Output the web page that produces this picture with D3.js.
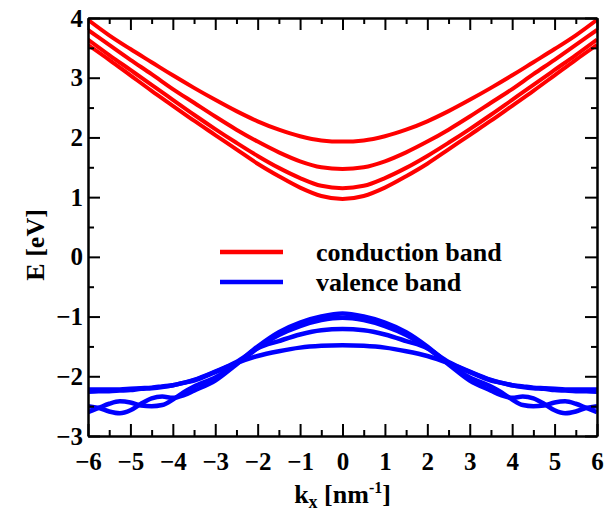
<!DOCTYPE html>
<html>
<head>
<meta charset="utf-8">
<script src="https://cdn.jsdelivr.net/npm/d3@7"></script>
<style>
  body { margin: 0; background: #fff; }
  svg text { font-family: "Liberation Serif", "Times New Roman", serif; font-weight: bold; }
</style>
</head>
<body>
<svg id="chart" width="605" height="511"></svg>
<script>
// wave vector grids [nm^-1]
const kCond = [-6,-5.5,-5,-4.5,-4,-3.5,-3,-2.5,-2,-1.5,-1,-0.5,0,0.5,1,1.5,2,2.5,3,3.5,4,4.5,5,5.5,6];
const kVal = [-6,-5.75,-5.5,-5.25,-5,-4.75,-4.5,-4.25,-4,-3.75,-3.5,-3,-2.5,-2,-1.5,-1,-0.5,0,
  0.5,1,1.5,2,2.5,3,3.5,3.75,4,4.25,4.5,4.75,5,5.25,5.5,5.75,6];

// conduction band energies [eV]
const cb1 = [3.97,3.71,3.48,3.26,3.04,2.83,2.63,2.44,2.27,2.13,2.02,1.95,1.93,1.95,2.02,2.13,2.27,2.44,2.63,2.83,3.04,3.26,3.48,3.71,3.97];
const cb2 = [3.80,3.55,3.30,3.06,2.81,2.58,2.35,2.13,1.93,1.75,1.60,1.50,1.47,1.50,1.60,1.75,1.93,2.13,2.35,2.58,2.81,3.06,3.30,3.55,3.80];
const cb3 = [3.64,3.38,3.13,2.88,2.63,2.38,2.14,1.91,1.69,1.49,1.32,1.19,1.15,1.19,1.32,1.49,1.69,1.91,2.14,2.38,2.63,2.88,3.13,3.38,3.64];
const cb4 = [3.55,3.30,3.04,2.78,2.53,2.28,2.04,1.80,1.56,1.35,1.16,1.02,0.97,1.02,1.16,1.35,1.56,1.80,2.04,2.28,2.53,2.78,3.04,3.30,3.55];

// valence band energies [eV]
const vb1 = [-2.60,-2.53,-2.46,-2.42,-2.44,-2.49,-2.50,-2.48,-2.39,-2.27,-2.17,-2.02,-1.79,-1.50,-1.26,-1.10,-1.00,-0.95,
  -1.00,-1.10,-1.26,-1.50,-1.79,-2.02,-2.17,-2.27,-2.39,-2.48,-2.50,-2.49,-2.44,-2.42,-2.46,-2.53,-2.60];
const vb2 = [-2.50,-2.53,-2.59,-2.62,-2.57,-2.46,-2.37,-2.34,-2.36,-2.32,-2.24,-2.07,-1.80,-1.53,-1.31,-1.16,-1.06,-1.02,
  -1.06,-1.16,-1.31,-1.53,-1.80,-2.07,-2.24,-2.32,-2.36,-2.34,-2.37,-2.46,-2.57,-2.62,-2.59,-2.53,-2.50];
const vb3 = [-2.22,-2.22,-2.22,-2.22,-2.21,-2.20,-2.19,-2.17,-2.15,-2.11,-2.06,-1.92,-1.76,-1.53,-1.41,-1.30,-1.23,-1.21,
  -1.23,-1.30,-1.41,-1.53,-1.76,-1.92,-2.06,-2.11,-2.15,-2.17,-2.19,-2.20,-2.21,-2.22,-2.22,-2.22,-2.22];
const vb4 = [-2.26,-2.25,-2.25,-2.24,-2.23,-2.21,-2.20,-2.18,-2.15,-2.11,-2.07,-1.93,-1.78,-1.66,-1.58,-1.52,-1.49,-1.48,
  -1.49,-1.52,-1.58,-1.66,-1.78,-1.93,-2.07,-2.11,-2.15,-2.18,-2.20,-2.21,-2.23,-2.24,-2.25,-2.25,-2.26];

const xTicks = [-6,-5,-4,-3,-2,-1,0,1,2,3,4,5,6];
const yTicks = [-3,-2,-1,0,1,2,3,4];
const legendLabels = ["conduction band", "valence band"];

const svg = d3.select("#chart"),
  margin = { top: 18, right: 8, bottom: 75, left: 88 },
  width = +svg.attr("width") - margin.left - margin.right,
  height = +svg.attr("height") - margin.top - margin.bottom;

const x = d3.scaleLinear().domain([-6, 6]).range([margin.left, margin.left + width]);
const y = d3.scaleLinear().domain([-3, 4]).range([margin.top + height, margin.top]);

const minorX = d3.range(-5.5, 6, 1);
const minorY = d3.range(-2.5, 4, 1);
const fmt = d3.format("d");

svg.append("clipPath").attr("id", "plot-clip")
  .append("rect")
  .attr("x", margin.left).attr("y", margin.top)
  .attr("width", width).attr("height", height);

const line = (ks) => d3.line()
  .x((d, i) => x(ks[i]))
  .y((d) => y(d))
  .curve(d3.curveMonotoneX);

const curves = svg.append("g").attr("clip-path", "url(#plot-clip)");

[cb1, cb2, cb3, cb4].forEach((band) => {
  curves.append("path")
    .attr("d", line(kCond)(band))
    .attr("fill", "none")
    .attr("stroke", "#ff0000")
    .attr("stroke-width", 4);
});

[vb1, vb2, vb3, vb4].forEach((band) => {
  curves.append("path")
    .attr("d", line(kVal)(band))
    .attr("fill", "none")
    .attr("stroke", "#0000ff")
    .attr("stroke-width", 4.5);
});

// axes with inward ticks on all four sides
const styleAxis = (g) => {
  g.selectAll(".domain").attr("stroke", "#000").attr("stroke-width", 2);
  g.selectAll(".tick line").attr("stroke", "#000").attr("stroke-width", 2);
  g.selectAll(".tick text").attr("fill", "#000").style("font-size", "25px")
    .style("font-family", '"Liberation Serif", "Times New Roman", serif').style("font-weight", "bold");
};

svg.append("g")
  .attr("transform", `translate(0,${margin.top + height})`)
  .call(d3.axisBottom(x).tickValues(xTicks).tickSize(-12).tickSizeOuter(0).tickPadding(16).tickFormat(fmt))
  .call(styleAxis);
svg.append("g")
  .attr("transform", `translate(0,${margin.top + height})`)
  .call(d3.axisBottom(x).tickValues(minorX).tickSize(-6).tickSizeOuter(0).tickFormat(""))
  .call(styleAxis);
svg.append("g")
  .attr("transform", `translate(0,${margin.top})`)
  .call(d3.axisTop(x).tickValues(xTicks).tickSize(-12).tickSizeOuter(0).tickFormat(""))
  .call(styleAxis);
svg.append("g")
  .attr("transform", `translate(0,${margin.top})`)
  .call(d3.axisTop(x).tickValues(minorX).tickSize(-6).tickSizeOuter(0).tickFormat(""))
  .call(styleAxis);

svg.append("g")
  .attr("transform", `translate(${margin.left},0)`)
  .call(d3.axisLeft(y).tickValues(yTicks).tickSize(-12).tickSizeOuter(0).tickPadding(5).tickFormat(fmt))
  .call(styleAxis);
svg.append("g")
  .attr("transform", `translate(${margin.left},0)`)
  .call(d3.axisLeft(y).tickValues(minorY).tickSize(-6).tickSizeOuter(0).tickFormat(""))
  .call(styleAxis);
svg.append("g")
  .attr("transform", `translate(${margin.left + width},0)`)
  .call(d3.axisRight(y).tickValues(yTicks).tickSize(-12).tickSizeOuter(0).tickFormat(""))
  .call(styleAxis);
svg.append("g")
  .attr("transform", `translate(${margin.left + width},0)`)
  .call(d3.axisRight(y).tickValues(minorY).tickSize(-6).tickSizeOuter(0).tickFormat(""))
  .call(styleAxis);

// axis titles
const xt = svg.append("text")
  .attr("x", x(0)).attr("y", 503)
  .attr("text-anchor", "middle")
  .style("font-size", "26px");
xt.append("tspan").text("k");
xt.append("tspan").attr("dy", 5).style("font-size", "18px").text("x");
xt.append("tspan").attr("dy", -5).text(" [nm");
xt.append("tspan").attr("dy", -10).style("font-size", "16px").text("-1");
xt.append("tspan").attr("dy", 10).text("]");

svg.append("text")
  .attr("transform", `translate(44,${y(0.2)}) rotate(-90)`)
  .attr("text-anchor", "middle")
  .style("font-size", "26px")
  .text("E [eV]");

// legend
const legend = svg.append("g");
legendLabels.forEach((label, i) => {
  const ly = 252 + i * 30;
  legend.append("line")
    .attr("x1", 220).attr("x2", 283)
    .attr("y1", ly).attr("y2", ly)
    .attr("stroke", i === 0 ? "#ff0000" : "#0000ff")
    .attr("stroke-width", 4.5);
  legend.append("text")
    .attr("x", 316).attr("y", ly + 9)
    .style("font-size", "26px")
    .text(label);
});
</script>
</body>
</html>
